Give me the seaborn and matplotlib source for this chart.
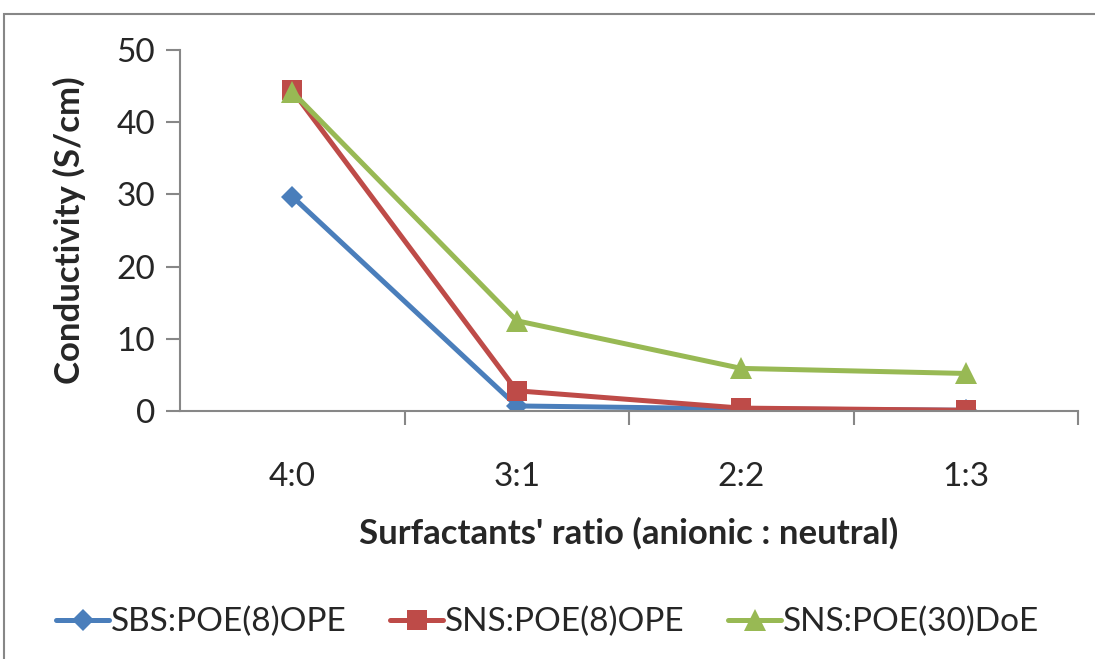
import matplotlib
matplotlib.use("Agg")
import matplotlib.pyplot as plt
import seaborn as sns
import pandas as pd
from matplotlib.patches import Rectangle

categories = ["4:0", "3:1", "2:2", "1:3"]
series_names = ["SBS:POE(8)OPE", "SNS:POE(8)OPE", "SNS:POE(30)DoE"]
sbs_poe8 = [29.7, 0.7, 0.3, 0.1]
sns_poe8 = [44.4, 2.8, 0.4, 0.1]
sns_poe30 = [44.2, 12.5, 5.9, 5.2]
y_ticks = [0, 10, 20, 30, 40, 50]

colors = ["#4A7EBB", "#BE4B48", "#98B954"]
markers = ["D", "s", "^"]
msizes = [11, 14, 16]

rows = []
for name, vals in zip(series_names, [sbs_poe8, sns_poe8, sns_poe30]):
    for i, (c, v) in enumerate(zip(categories, vals)):
        rows.append({"pos": i, "cat": c, "value": v, "series": name})
df = pd.DataFrame(rows)

sns.set_style("white")
plt.rcParams["font.family"] = ["Lato", "DejaVu Sans"]

fig = plt.figure(figsize=(10.95, 6.59), dpi=100)
ax = fig.add_axes([180/1095, 1-411/659, (1078-180)/1095, (411-50)/659])

for name, col, mk, ms in zip(series_names, colors, markers, msizes):
    sub = df[df["series"] == name]
    sns.lineplot(data=sub, x="pos", y="value", ax=ax, color=col, marker=mk,
                 markersize=ms, linewidth=3.6, markeredgewidth=0, sort=False,
                 label=name, legend=False)

ax.set_xlim(-0.5, len(categories) - 0.5)
ax.set_ylim(0, 50)
ax.set_yticks(y_ticks)
ax.set_yticklabels([str(t) for t in y_ticks], fontsize=24)
ax.set_xticks([i + 0.5 for i in range(len(categories))])
ax.set_xticklabels([])
ax.set_xticks(range(len(categories)), minor=True)
ax.set_xticklabels(categories, minor=True, fontsize=24)
ax.tick_params(axis="x", which="major", direction="out", length=10, width=1.5, color="#878787", bottom=True)
ax.tick_params(axis="x", which="minor", length=0, pad=37, bottom=True)
ax.tick_params(axis="y", direction="out", length=10, width=1.5, color="#878787", left=True, pad=8)

for s in ["top", "right"]:
    ax.spines[s].set_visible(False)
for s in ["left", "bottom"]:
    ax.spines[s].set_color("#878787")
    ax.spines[s].set_linewidth(1.5)

ax.set_xlabel("Surfactants' ratio (anionic : neutral)", fontsize=25, fontweight="bold", labelpad=18)
ax.set_ylabel("Conductivity (S/cm)", fontsize=25, fontweight="bold", labelpad=22)

handles, labels = ax.get_legend_handles_labels()
fig.legend(handles, labels, loc="center", bbox_to_anchor=(0.5, 1-622/659), ncol=3,
           frameon=False, fontsize=24, handlelength=1.6, handletextpad=0.05, columnspacing=1.3)

fig.patches.append(Rectangle((4/1095, -0.05), 1.1, 1-14/659+0.05, transform=fig.transFigure,
                             fill=False, edgecolor="#878787", linewidth=1.5, figure=fig))

fig.savefig("out.png", dpi=100)
